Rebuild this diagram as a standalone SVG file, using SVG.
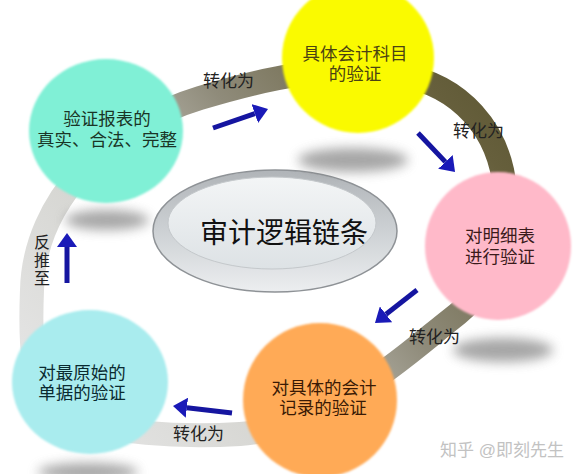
<svg xmlns="http://www.w3.org/2000/svg" width="580" height="474" viewBox="0 0 580 474">
<defs>
<linearGradient id="ringGrad" gradientUnits="userSpaceOnUse" x1="60" y1="440" x2="500" y2="80">
<stop offset="0" stop-color="#e6e6e6"/>
<stop offset="0.3" stop-color="#d6d6d2"/>
<stop offset="0.6" stop-color="#8f8b7a"/>
<stop offset="0.9" stop-color="#665f3c"/>
<stop offset="1" stop-color="#5e5834"/>
</linearGradient>
<linearGradient id="rimGrad" x1="0" y1="0" x2="0" y2="1">
<stop offset="0" stop-color="#b0b4b8"/>
<stop offset="0.5" stop-color="#cdd1d4"/>
<stop offset="1" stop-color="#eceef0"/>
</linearGradient>
<linearGradient id="faceGrad" x1="0" y1="0" x2="0" y2="1">
<stop offset="0" stop-color="#f3f5f6"/>
<stop offset="1" stop-color="#dde2e5"/>
</linearGradient>
<filter id="blur" x="-50%" y="-100%" width="200%" height="300%">
<feGaussianBlur stdDeviation="6"/>
</filter>
<filter id="soft" x="-10%" y="-10%" width="120%" height="120%">
<feGaussianBlur stdDeviation="0.8"/>
</filter>
<marker id="head" markerUnits="userSpaceOnUse" markerWidth="14" markerHeight="20" refX="0" refY="10" orient="auto">
<path d="M0,0 L14,10 L0,20 z" fill="#1a1ab8"/>
</marker>
<style>
.node{filter:url(#soft);}
.t{font-family:"Liberation Sans","Noto Sans CJK SC",sans-serif;font-size:17.5px;text-anchor:middle;}
.lbl{font-family:"Liberation Sans","Noto Sans CJK SC",sans-serif;font-size:17px;fill:#222;}
.arr{stroke:#1515a0;stroke-width:5;fill:none;marker-end:url(#head);}
.shadow{fill:#777;opacity:0.65;filter:url(#blur);}
</style>
</defs>
<rect width="580" height="474" fill="#ffffff"/>

<g id="ring">
<path d="M 32 290 C 34 200, 110 125, 200 98 C 260 80, 330 62, 400 75 C 460 85, 500 130, 505 190 C 510 250, 490 290, 450 320 C 415 347, 330 428, 240 434 C 190 437, 100 436, 60 410 C 30 390, 30 340, 32 290 Z" fill="none" stroke="url(#ringGrad)" stroke-width="24"/>
</g>

<g id="center">
<ellipse cx="275" cy="231" rx="122" ry="61" fill="url(#rimGrad)" stroke="#8e9296" stroke-width="1.5"/>
<ellipse cx="272" cy="223" rx="104" ry="46" fill="url(#faceGrad)" stroke="#c4c8cb" stroke-width="1"/>
<text x="284" y="243" style="font-family:'Liberation Sans','Noto Sans CJK SC',sans-serif;font-size:28px;text-anchor:middle;fill:#111;">审计逻辑链条</text>
</g>

<g id="shadows">
<ellipse class="shadow" cx="107" cy="220" rx="42" ry="10"/>
<ellipse class="shadow" cx="353" cy="160" rx="55" ry="12"/>
<ellipse class="shadow" cx="503" cy="350" rx="50" ry="12"/>
<ellipse class="shadow" cx="88" cy="472" rx="50" ry="9"/>
</g>

<g id="node-report">
<ellipse class="node" cx="106" cy="131" rx="77" ry="72" fill="#80f0d6"/>
<text class="t" x="107" y="125" fill="#1a3526">验证报表的</text>
<text class="t" x="107" y="146" fill="#1a3526">真实、合法、完整</text>
</g>

<g id="node-account">
<ellipse class="node" cx="358" cy="58" rx="76" ry="75" fill="#fafa00"/>
<text class="t" x="355" y="60" fill="#4a4212">具体会计科目</text>
<text class="t" x="355" y="80" fill="#4a4212">的验证</text>
</g>

<g id="node-detail">
<ellipse class="node" cx="498" cy="246" rx="73" ry="74" fill="#ffb9c9"/>
<text class="t" x="500" y="242" fill="#3a1a1a">对明细表</text>
<text class="t" x="500" y="263" fill="#3a1a1a">进行验证</text>
</g>

<g id="node-record">
<ellipse class="node" cx="320" cy="400" rx="77" ry="77" fill="#ffaa56"/>
<text class="t" x="324" y="394" fill="#3a1a05">对具体的会计</text>
<text class="t" x="323" y="414" fill="#3a1a05">记录的验证</text>
</g>

<g id="node-voucher">
<ellipse class="node" cx="90" cy="382" rx="78" ry="72" fill="#a9ecee"/>
<text class="t" x="82" y="379" fill="#0a2a30">对最原始的</text>
<text class="t" x="82" y="399" fill="#0a2a30">单据的验证</text>
</g>

<g id="connectors">
<line class="arr" x1="213" y1="128" x2="254.8" y2="113.6"/>
<line class="arr" x1="418" y1="133" x2="445.4" y2="161.9"/>
<line class="arr" x1="417" y1="290" x2="386" y2="314.3"/>
<line class="arr" x1="232" y1="413" x2="186.9" y2="407.7"/>
<line class="arr" x1="67" y1="283" x2="67" y2="247"/>
<text class="lbl" x="203" y="87">转化为</text>
<text class="lbl" x="453" y="137">转化为</text>
<text class="lbl" x="409" y="343">转化为</text>
<text class="lbl" x="173" y="440">转化为</text>
<text class="lbl" x="42" y="248" text-anchor="middle" style="font-size:16px">反</text>
<text class="lbl" x="42" y="266" text-anchor="middle" style="font-size:16px">推</text>
<text class="lbl" x="42" y="284" text-anchor="middle" style="font-size:16px">至</text>
</g>

<text x="440" y="456" style="font-family:'Liberation Sans','Noto Sans CJK SC',sans-serif;font-size:17px;fill:#c2c2c2;">知乎 @即刻先生</text>
</svg>
